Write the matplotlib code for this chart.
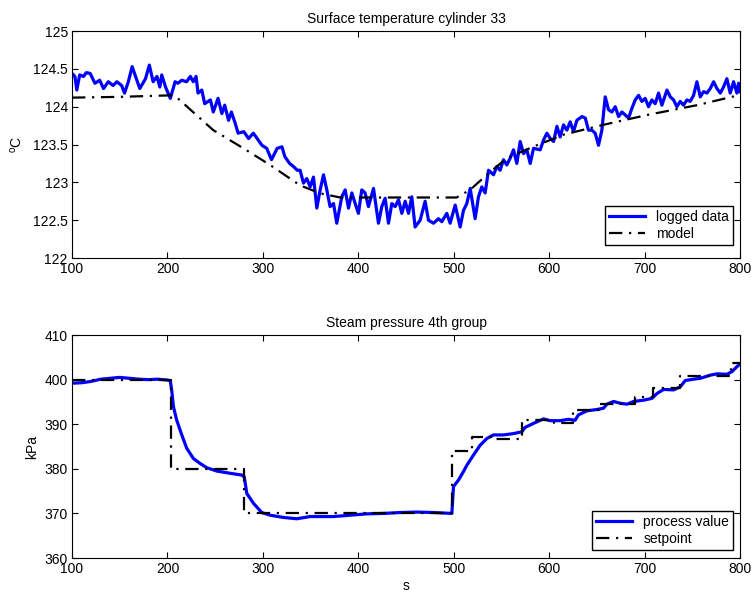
import matplotlib
matplotlib.use('Agg')
import matplotlib.pyplot as plt

plt.rcParams['font.family'] = ['Liberation Sans', 'DejaVu Sans']
plt.rcParams['font.size'] = 10
plt.rcParams['mathtext.fontset'] = 'custom'
plt.rcParams['mathtext.rm'] = 'Liberation Sans'

# --- top panel: surface temperature ---
temp_t = [100, 103, 105, 108, 112, 115, 119, 124, 129, 133, 138, 143, 147, 152, 155,
          159, 163, 168, 171, 177, 181, 185, 189, 192, 194, 198, 203, 208, 211, 215,
          220, 224, 227, 230, 232, 236, 239, 245, 248, 253, 257, 260, 264, 267, 271,
          274, 280, 285, 290, 294, 299, 304, 309, 315, 320, 323, 328, 332, 336, 339,
          342.5, 346, 349.5, 353, 356.5, 360, 363.5, 367, 370.4, 374, 377.4, 382.7,
          386.2, 389.7, 393.2, 396.7, 400.1, 403.6, 407.1, 410.6, 415.9, 421.1, 424.6,
          428.1, 431.6, 435.1, 438.6, 442.1, 445.6, 449.1, 452.6, 456.0, 459.5, 464.8,
          470.0, 473.5, 478.8, 484.0, 487.5, 492.7, 496.2, 501.5, 506.7, 510.2, 513.7,
          517.2, 522.4, 525.9, 529.4, 532.9, 536.4, 541.7, 545.1, 548.6, 552.1, 555.6,
          559.1, 562.6, 566.1, 569.6, 573.1, 576.6, 580.1, 583.6, 590.6, 594.1, 597.6,
          601.1, 604.6, 608.1, 611.5, 615.0, 618.5, 622.0, 625.5, 629.0, 634.3, 637.8,
          641.2, 644.7, 648.2, 651.7, 655.2, 658.7, 662.2, 665.7, 669.2, 672.7, 676.2,
          679.7, 683.2, 686.7, 690.2, 693.7, 697.1, 700.6, 704.1, 707.6, 711.1, 714.6,
          718.1, 723.4, 726.9, 730.3, 733.8, 737.3, 740.8, 744.3, 747.8, 751.3, 754.8,
          758.3, 761.8, 765.3, 768.8, 772.3, 775.8, 779.3, 782.7, 786.2, 789.7, 793.2,
          796.7, 798.5, 800]
temp_logged = [124.44, 124.40, 124.22, 124.42, 124.40, 124.45, 124.44, 124.31, 124.35,
               124.24, 124.33, 124.28, 124.33, 124.28, 124.18, 124.33, 124.53, 124.35,
               124.24, 124.37, 124.55, 124.33, 124.40, 124.26, 124.42, 124.26, 124.11,
               124.33, 124.31, 124.35, 124.33, 124.40, 124.33, 124.40, 124.18, 124.22,
               124.04, 124.09, 123.93, 124.11, 123.91, 124.02, 123.82, 123.93, 123.78,
               123.65, 123.67, 123.58, 123.65, 123.58, 123.49, 123.45, 123.30, 123.45,
               123.47, 123.34, 123.25, 123.21, 123.16, 123.16,
               122.99, 123.05, 122.94, 123.07, 122.66, 122.90, 123.10, 122.90, 122.68,
               122.72, 122.46, 122.81, 122.90, 122.66, 122.86, 122.72, 122.59, 122.90,
               122.86, 122.68, 122.92, 122.46, 122.68, 122.79, 122.46, 122.72, 122.68,
               122.77, 122.59, 122.75, 122.59, 122.81, 122.41, 122.50, 122.75, 122.50,
               122.46, 122.52, 122.48, 122.59, 122.46, 122.70, 122.41, 122.63, 122.72,
               122.92, 122.52, 122.81, 122.94, 122.86, 123.16, 123.10, 123.21, 123.16,
               123.30, 123.23, 123.32, 123.43, 123.25, 123.54, 123.38, 123.43, 123.25,
               123.45, 123.43, 123.56, 123.65, 123.58,
               123.54, 123.74, 123.60, 123.76, 123.69, 123.80, 123.67, 123.82, 123.87,
               123.85, 123.69, 123.69, 123.65, 123.49, 123.69, 124.13, 123.96, 123.93,
               124.00, 123.87, 123.93, 123.89, 123.85, 123.98, 124.09, 124.15, 124.07,
               124.11, 124.00, 124.09, 124.04, 124.18, 124.02, 124.22, 124.13, 124.09,
               124.00, 124.07, 124.02, 124.09, 124.07, 124.15, 124.33, 124.13, 124.20,
               124.18, 124.24, 124.33, 124.24, 124.18, 124.26, 124.37, 124.18, 124.33,
               124.18, 124.31, 124.20]

model_t = [100, 150, 202.7, 210, 225, 248, 279.6, 307.5, 339, 360, 381, 503, 517,
           534.7, 555.6, 583, 614.9, 656.6, 702.4, 754.8, 798, 800]
model_v = [124.12, 124.13, 124.15, 124.12, 123.95, 123.69, 123.45, 123.23, 122.96,
           122.855, 122.80, 122.80, 122.90, 123.10, 123.32, 123.47, 123.63, 123.76,
           123.89, 124.02, 124.15, 124.15]

# --- bottom panel: steam pressure ---
pres_t = [100, 110, 120, 130, 140, 150, 160, 170, 180, 190, 200, 203, 204.5, 206.3,
          209.7, 215, 220.2, 227.2, 234.2, 241.2, 251.7, 265.6, 277.9, 280.5, 283.1,
          290, 298.8, 307.6, 321.5, 335.5, 349.5, 356.5, 374, 391.4, 408.9, 426.4,
          443.8, 461.3, 478.8, 498, 499.7, 505, 510.2, 513.7, 520.7, 527.7, 534.7,
          541.6, 552, 562.6, 571.3, 574.8, 583.6, 594, 601, 611.5, 620, 627.2, 630.7,
          639.5, 650, 657, 660.5, 667.5, 674.5, 681.5, 688.4, 699, 707.7, 713, 719.9,
          730.4, 737.4, 742.6, 751.3, 758.3, 768.8, 775.8, 786.3, 791.5, 796.7, 800]
pres_value = [399.2, 399.3, 399.6, 400.1, 400.3, 400.5, 400.3, 400.1, 400.0, 400.1,
              399.9, 399.7, 397.5, 393.9, 390.9, 387.6, 384.6, 382.3, 381.2, 380.25,
              379.5, 379.0, 378.6, 378.2, 374.5, 372.3, 370.2, 369.6, 369.1, 368.8,
              369.3, 369.3, 369.3, 369.6, 369.9, 370.0, 370.2, 370.3, 370.2, 370.0,
              376.0, 377.5, 379.4, 380.8, 383.1, 385.3, 386.8, 387.6, 387.6, 387.9,
              388.3, 389.3, 390.2, 391.2, 390.8, 390.8, 391.1, 390.9, 392.1, 393.0,
              393.3, 393.6, 394.5, 395.1, 394.7, 394.5, 395.1, 395.4, 395.8, 396.9,
              397.8, 397.7, 398.4, 399.8, 400.1, 400.3, 401.0, 401.3, 401.2, 401.8,
              402.9, 403.5]

setp_t = [100, 204, 280, 498, 519, 540, 572, 605, 625, 653, 690, 709, 737, 791, 800]
setp_v = [400, 380, 370, 384, 387.2, 386.7, 391, 390.2, 393.2, 394.6, 396, 398.2,
          400.8, 403.8, 403.8]

fig = plt.figure(figsize=(7.55, 5.97), dpi=100)
ax1 = fig.add_axes([0.0954, 0.5678, 0.8848, 0.3802])
ax2 = fig.add_axes([0.0954, 0.0653, 0.8848, 0.3735])

dashdot = (0, (6, 3, 1, 3))

ax1.plot(temp_t, temp_logged, color='blue', lw=2.3, label='logged data')
ax1.plot(model_t, model_v, color='black', lw=1.6, linestyle=dashdot, label='model')
ax1.set_xlim(100, 800)
ax1.set_ylim(122, 125)
ax1.set_yticks([122, 122.5, 123, 123.5, 124, 124.5, 125])
ax1.set_yticklabels(['122', '122.5', '123', '123.5', '124', '124.5', '125'])
ax1.set_title('Surface temperature cylinder 33', fontsize=10, pad=6)
ax1.set_ylabel(r'$^{\mathrm{o}}$C', labelpad=6)
ax1.legend(loc='lower right', bbox_to_anchor=(0.99, 0.057), borderaxespad=0,
           fancybox=False, edgecolor='black', framealpha=1, handlelength=2.6,
           borderpad=0.3, labelspacing=0.2, fontsize=10)

ax2.plot(pres_t, pres_value, color='blue', lw=2.3, label='process value')
ax2.plot(setp_t, setp_v, color='black', lw=1.6, linestyle=dashdot,
         drawstyle='steps-post', label='setpoint')
ax2.set_xlim(100, 800)
ax2.set_ylim(360, 410)
ax2.set_yticks([360, 370, 380, 390, 400, 410])
ax2.set_title('Steam pressure 4th group', fontsize=10, pad=6)
ax2.set_ylabel('kPa')
ax2.set_xlabel('s', labelpad=2)
ax2.legend(loc='lower right', bbox_to_anchor=(0.99, 0.036), borderaxespad=0,
           fancybox=False, edgecolor='black', framealpha=1, handlelength=2.6,
           borderpad=0.3, labelspacing=0.2, fontsize=10)

for ax in (ax1, ax2):
    ax.set_xticks([100, 200, 300, 400, 500, 600, 700, 800])
    ax.tick_params(direction='in', top=True, right=True, length=4, width=0.8,
                   labelsize=10, pad=3)
    for s in ax.spines.values():
        s.set_linewidth(0.8)

fig.savefig('out.png', dpi=100)
